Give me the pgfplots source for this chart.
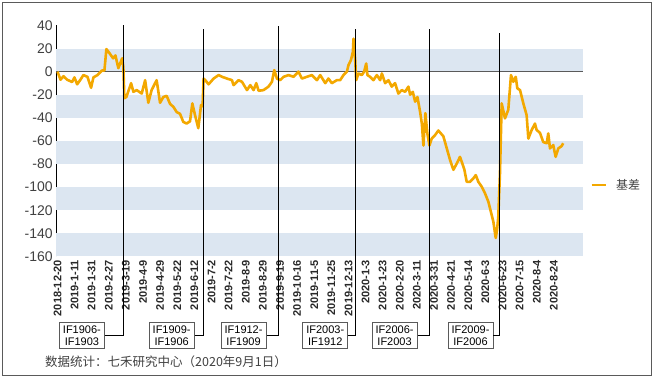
\documentclass[border=0pt]{standalone}
\usepackage{pgfplots}
\pgfplotsset{compat=1.18}
\usepackage{fontspec}
\setmainfont{Liberation Sans}
\newfontfamily\cjk{Noto Sans CJK SC}
\definecolor{band}{RGB}{220,230,241}
\definecolor{basis}{RGB}{243,168,0}
\definecolor{txt}{RGB}{64,64,64}
\definecolor{frame}{RGB}{90,90,90}
\begin{document}
\begin{tikzpicture}[x=1pt,y=1pt,
  box/.style={draw=frame, line width=0.9pt, fill=white, minimum width=45pt, minimum height=26pt, inner sep=1pt, align=center, font=\fontsize{11}{11.5}\selectfont, text=black},
  vline/.style={black, line width=0.9pt}]
\useasboundingbox (0,0) rectangle (654,380);
\draw[line width=1pt, frame] (2,4) rectangle (651,377);
\begin{axis}[
  at={(46,107)}, anchor=south west,
  scale only axis, width=527pt, height=231pt,
  xmin=-1, xmax=430, ymin=-160, ymax=40,
  clip=false,
  axis x line*=bottom, axis y line*=left,
  x axis line style={draw=none},
  y axis line style={line width=1.2pt, black, -},
  major tick length=0pt,
  ytick={-160,-140,...,40},
  yticklabels={-160,-140,-120,-100,-80,-60,-40,-20,0,20,40},
  yticklabel style={font=\fontsize{14}{14}\selectfont, text=txt},
  xtick={0,14,...,406},
  xticklabels={2018-12-20,2019-1-11,2019-1-31,2019-2-27,2019-3-19,2019-4-9,2019-4-29,2019-5-22,2019-6-12,2019-7-2,2019-7-22,2019-8-9,2019-8-29,2019-9-19,2019-10-16,2019-11-5,2019-11-25,2019-12-13,2020-1-3,2020-1-23,2020-2-20,2020-3-11,2020-3-31,2020-4-21,2020-5-14,2020-6-3,2020-6-23,2020-7-15,2020-8-4,2020-8-24},
  xticklabel style={rotate=90, anchor=east, font=\bfseries\fontsize{11}{11}\selectfont, text={rgb,255:red,40;green,40;blue,40}},
  legend style={at={(1,0.31)}, anchor=west, draw=none, fill=none, font=\cjk\fontsize{12}{12}\selectfont, text=txt, xshift=4pt},
  legend image code/.code={\draw[#1] (0pt,0pt) -- (14pt,0pt);},
]
\fill[band] (axis cs:-1,0) rectangle (axis cs:430,20);
\fill[band] (axis cs:-1,-40) rectangle (axis cs:430,-20);
\fill[band] (axis cs:-1,-80) rectangle (axis cs:430,-60);
\fill[band] (axis cs:-1,-120) rectangle (axis cs:430,-100);
\fill[band] (axis cs:-1,-160) rectangle (axis cs:430,-140);
\draw[line width=1.2pt, frame] (axis cs:-1,0) -- (axis cs:430,0);
\addplot[basis, line width=2.6pt, line join=round] coordinates {
(0,0) (2.5,-7) (4.9,-4) (7.9,-7) (12,-9) (13.9,-5) (16.1,-11) (18.8,-7) (21.2,-3) (24.5,-4.5) (27.5,-14) (29.4,-5) (32.7,-3) (36.5,1) (38.4,1) (40,19.5) (42.5,16) (45.5,11.5) (47.4,14) (49.8,3) (52.9,11.5) (53.9,4) (54.7,-23) (56.4,-22) (60.2,-10) (62.1,-17.5) (64.8,-16) (68.9,-19) (71.7,-7.4) (74.3,-27) (77,-16) (81.1,-7.4) (83.9,-27) (86.6,-22) (89.3,-21) (92.1,-28) (94.8,-30.5) (97.5,-35) (100.2,-36.5) (102.9,-43.5) (105.6,-45) (108.4,-43) (110.3,-27.5) (112.5,-37.7) (115.2,-49) (117.4,-29) (118.7,-30) (119.5,-6) (120.9,-7.4) (123.6,-11) (127.7,-6) (131.8,-3) (134.6,-4.5) (138.6,-6) (142.7,-7.4) (144,-11.7) (148.1,-7.4) (150.9,-8.8) (155,-16) (157.7,-11.7) (160.4,-16) (162.6,-10) (164.5,-16.6) (168.5,-16) (172.6,-13) (175.4,-8.8) (177.3,1.3) (179.5,-6) (182.2,-7.4) (184.9,-4.5) (189,-3) (193.1,-4.5) (197.1,0) (199.9,-6) (204,-4.5) (208.1,-3) (212.2,-7.4) (214.9,-3) (219,-10) (221.6,-6) (224.4,-10) (228.5,-7.4) (231.2,-7.4) (233.9,-3) (236.7,0) (238,5.6) (240,10) (241.6,17) (242.1,28.5) (243.5,10) (244.3,-7.4) (246.2,-1.6) (248.9,-3) (250.8,0) (252.5,7) (253.5,-3) (255.7,-4.5) (258.4,-7.4) (261.2,-3) (263.9,-7.4) (265.3,-1.6) (268,-10) (270.7,-7.4) (273.4,-13) (276.1,-10) (278.8,-19) (281.6,-16) (284.3,-17.5) (287,-13) (288.4,-20) (290.6,-17.5) (292.5,-26) (294.4,-22) (296.6,-35) (298,-45) (299.3,-64) (300.9,-36) (302.5,-53.5) (304.2,-64) (306.1,-58) (308.8,-55) (311.5,-51) (315.6,-56) (318.4,-66.5) (321.1,-76.6) (323.8,-85) (326.6,-79.5) (329.2,-73.8) (330.6,-78) (332.8,-85) (334.7,-95.4) (337.4,-95.4) (340.1,-92.5) (342.1,-89.6) (344.2,-95.4) (347,-99.7) (349.7,-105.5) (352.4,-112.7) (355.1,-124) (356.5,-130) (358.4,-144) (359.5,-137) (360.5,-126) (361.9,-88) (363.3,-27.5) (366,-40.5) (368.7,-33) (370.9,-3) (372.8,-8.8) (374.8,-4.5) (376.1,-14.5) (378.3,-16) (381,-27.5) (383.7,-37.7) (385.1,-58) (387.8,-50.6) (390.5,-45) (391.9,-50.6) (394.6,-53) (397.3,-61) (400.1,-62) (401.4,-53.5) (402.8,-66.5) (405.5,-63.6) (407.4,-73.8) (409.6,-66.5) (412.3,-64.5) (413.6,-62)
};
\addlegendentry{\hspace{7pt}基差}
\node[box] (b1) at (axis cs:20,-228.5) {IF1906-\\IF1903};
\node[box] (b2) at (axis cs:93.4,-228.5) {IF1909-\\IF1906};
\node[box] (b3) at (axis cs:152.2,-228.5) {IF1912-\\IF1909};
\node[box] (b4) at (axis cs:219,-228.5) {IF2003-\\IF1912};
\node[box] (b5) at (axis cs:275.7,-228.5) {IF2006-\\IF2003};
\node[box] (b6) at (axis cs:337.8,-228.5) {IF2009-\\IF2006};
\draw[vline] (axis cs:53.9,40) |- (b1.east);
\draw[vline] (axis cs:119.3,36.8) |- (b2.east);
\draw[vline] (axis cs:180.6,39.4) |- (b3.east);
\draw[vline] (axis cs:243.5,36.8) |- (b4.east);
\draw[vline] (axis cs:304,36.8) |- (b5.east);
\draw[vline] (axis cs:361.1,33.3) |- (b6.east);
\end{axis}
\node[anchor=west, font=\cjk\fontsize{12.5}{12.5}\selectfont, text=txt, inner sep=0pt] at (45,18) {数据统计：七禾研究中心（2020年9月1日）};
\end{tikzpicture}
\end{document}
